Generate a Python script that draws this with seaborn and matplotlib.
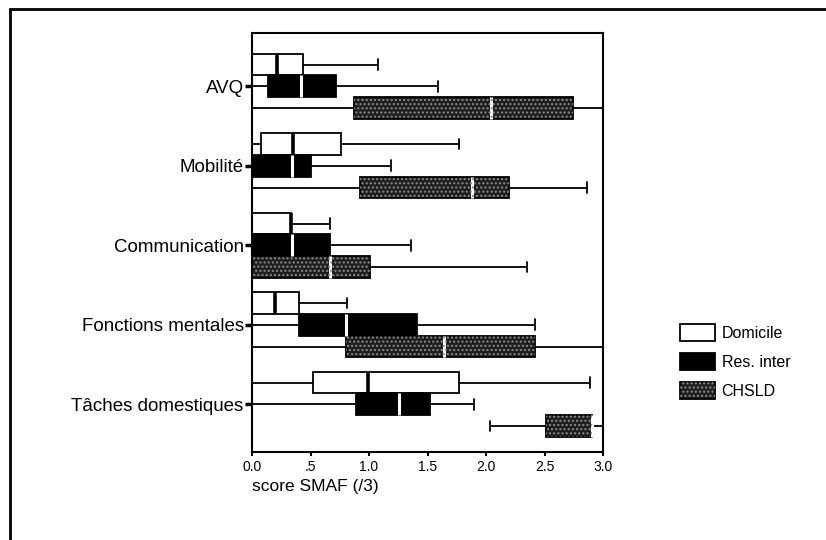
import numpy as np
import pandas as pd
import matplotlib
matplotlib.use("Agg")
import matplotlib.pyplot as plt
import seaborn as sns
from matplotlib.patches import Patch, PathPatch
from matplotlib.lines import Line2D

# -----------------------------
# DATA (five-number summaries)
# -----------------------------
domains = ["AVQ", "Mobilité", "Communication", "Fonctions mentales", "Tâches domestiques"]
groups = ["Domicile", "Res. inter", "CHSLD"]

dom_min = [0.00, 0.00, 0.00, 0.00, 0.00]
dom_q1 = [0.00, 0.08, 0.00, 0.00, 0.52]
dom_med = [0.21, 0.35, 0.33, 0.20, 0.99]
dom_q3 = [0.44, 0.76, 0.33, 0.40, 1.77]
dom_max = [1.08, 1.77, 0.67, 0.81, 2.89]

res_min = [0.00, 0.00, 0.00, 0.00, 0.00]
res_q1 = [0.14, 0.00, 0.00, 0.40, 0.89]
res_med = [0.42, 0.34, 0.34, 0.80, 1.26]
res_q3 = [0.72, 0.50, 0.67, 1.41, 1.52]
res_max = [1.59, 1.19, 1.36, 2.42, 1.90]

ch_min = [0.00, 0.00, 0.00, 0.00, 2.03]
ch_q1 = [0.87, 0.92, 0.00, 0.80, 2.51]
ch_med = [2.04, 1.88, 0.67, 1.64, 2.91]
ch_q3 = [2.74, 2.20, 1.01, 2.42, 2.91]
ch_max = [3.00, 2.86, 2.35, 3.00, 3.00]

summaries = {
    "Domicile": [dom_min, dom_q1, dom_med, dom_q3, dom_max],
    "Res. inter": [res_min, res_q1, res_med, res_q3, res_max],
    "CHSLD": [ch_min, ch_q1, ch_med, ch_q3, ch_max],
}

# five points per box -> quartiles / min / max reproduce the summary exactly
rows = []
for g in groups:
    for i, d in enumerate(domains):
        for stat in summaries[g]:
            rows.append({"groupe": g, "domaine": d, "score": stat[i]})
df = pd.DataFrame(rows)

# -----------------------------
# STYLE
# -----------------------------
sns.set_style("ticks")
plt.rcParams["font.family"] = ["Liberation Sans", "DejaVu Sans"]
plt.rcParams["hatch.linewidth"] = 1.0
plt.rcParams["text.color"] = "black"
plt.rcParams["xtick.color"] = "black"
plt.rcParams["ytick.color"] = "black"

chsld_face = "#1e1e1e"
speckle = "#8c8c8c"
palette = {"Domicile": "white", "Res. inter": "black", "CHSLD": chsld_face}
width = 0.82

fig = plt.figure(figsize=(8.26, 5.40), dpi=100)
ax = fig.add_axes([252 / 826, 1 - 452 / 540, (603 - 252) / 826, (452 - 33) / 540])

sns.boxplot(
    data=df, x="score", y="domaine", hue="groupe",
    order=domains, hue_order=groups,
    palette=palette, saturation=1,
    orient="h", width=width, gap=0,
    whis=(0, 100), linecolor="black", linewidth=1.3,
    medianprops={"color": "white", "linewidth": 2.2},
    legend=False, ax=ax,
)

# speckle texture on the CHSLD boxes
for p in list(ax.patches):
    if np.allclose(p.get_facecolor()[:3], matplotlib.colors.to_rgb(chsld_face)):
        ax.add_patch(PathPatch(p.get_path(), transform=p.get_transform(),
                               facecolor="none", edgecolor=speckle,
                               linewidth=0, hatch="....", zorder=2.5))

# medians: black in the white (Domicile) boxes
box_w = width / len(groups)
for ln in ax.lines:
    xd, yd = np.asarray(ln.get_xdata(), float), np.asarray(ln.get_ydata(), float)
    if len(xd) == 2 and np.isclose(xd[0], xd[1]) and np.isclose(abs(yd[1] - yd[0]), box_w, atol=1e-3):
        yc = yd.mean()
        off = yc - round(yc)
        if off < -box_w / 2:
            ln.set_color("black")
            ln.set_linewidth(2.6)

ax.set_xlim(0, 3)
ax.set_ylim(4.6, -0.67)
ax.set_xticks([0, 0.5, 1, 1.5, 2, 2.5, 3])
ax.set_xticklabels(["0.0", ".5", "1.0", "1.5", "2.0", "2.5", "3.0"], fontsize=10)
ax.tick_params(axis="x", length=3, width=1.5, pad=3, color="black", labelcolor="black")
ax.tick_params(axis="y", length=5, width=2.5, pad=1, labelsize=13.5, color="black", labelcolor="black")
for s in ax.spines.values():
    s.set_visible(True)
    s.set_linewidth(1.5)
    s.set_color("black")

ax.set_ylabel("")
ax.set_xlabel("")
fig.text(252 / 826, 1 - 487 / 540, "score SMAF (/3)", fontsize=12.5,
         ha="left", va="center", color="black")

# legend
handles = [
    Patch(facecolor="white", edgecolor="black", linewidth=1.3),
    Patch(facecolor="black", edgecolor="black", linewidth=1.3),
    (Patch(facecolor=chsld_face, edgecolor="black", linewidth=1.3),
     Patch(facecolor="none", edgecolor=speckle, linewidth=0, hatch="....")),
]
fig.legend(handles, groups, loc="upper left",
           bbox_to_anchor=(672 / 826, 1 - 316 / 540),
           frameon=False, fontsize=11.5, handlelength=2.2, handleheight=1.25,
           labelspacing=0.75, handletextpad=0.4, borderpad=0, labelcolor="black")

# outer frame (left and top edges only visible)
fig.add_artist(Line2D([10 / 826, 10 / 826], [0, 1 - 9 / 540], color="black", lw=2))
fig.add_artist(Line2D([10 / 826, 1], [1 - 9 / 540, 1 - 9 / 540], color="black", lw=2))

fig.savefig("out.png", dpi=100)
